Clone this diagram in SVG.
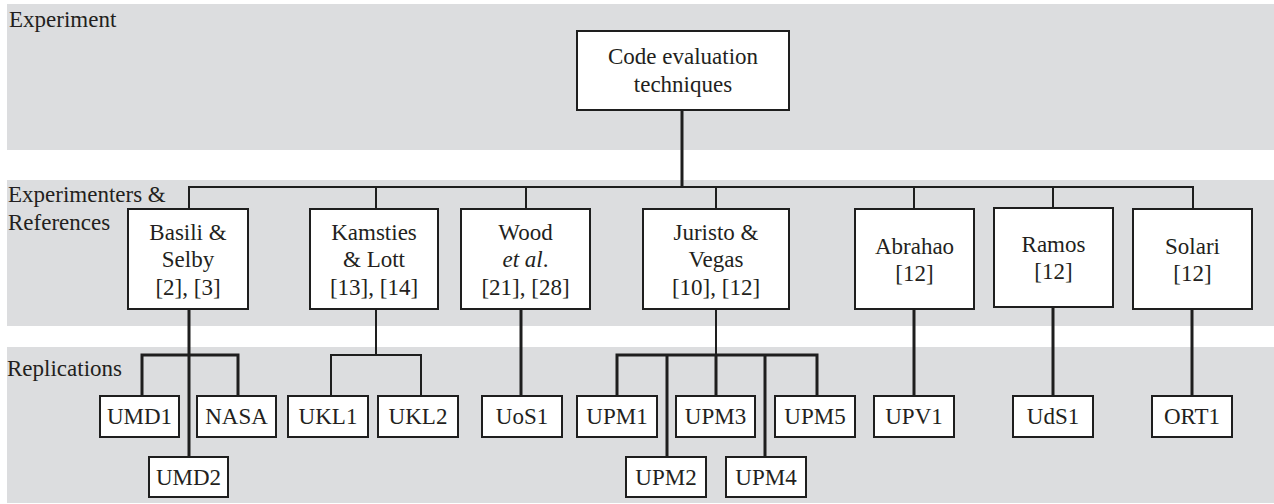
<svg xmlns="http://www.w3.org/2000/svg" width="1274" height="504" viewBox="0 0 1274 504">
<style>
.band{fill:#dcdddf}
.box{fill:#fff;stroke:#1e1e1e;stroke-width:2}
.t{font-family:"Liberation Serif","Times New Roman",serif;font-size:23px;fill:#231f20}
.c{text-anchor:middle}
.ln{stroke:#1e1e1e;stroke-width:3;fill:none}
.thin{stroke:#1e1e1e;stroke-width:2;fill:none}
</style>
<rect width="1274" height="504" fill="#fff"/>
<g id="bands">
<rect class="band" x="7" y="4" width="1267" height="146"/>
<rect class="band" x="7" y="180" width="1267" height="146"/>
<rect class="band" x="7" y="347" width="1267" height="156"/>
<text class="t" x="9" y="27">Experiment</text>
<text class="t" x="8" y="202">Experimenters &amp;</text>
<text class="t" x="8" y="230">References</text>
<text class="t" x="7" y="376">Replications</text>
</g>
<g id="connectors">
<line class="ln" x1="682" y1="110" x2="682" y2="188"/>
<line class="thin" x1="188" y1="187" x2="1194" y2="187"/>
<path class="thin" d="M189 187V209M376 187V209M526 187V209M716 187V209M914 187V209M1053 187V208M1193 187V209"/>
<path class="ln" d="M189 309V457M142 396V355H238V396"/>
<path class="thin" d="M376 309V355M331 396V355H421V396"/>
<path class="ln" d="M521 309V396"/>
<path class="thin" d="M716 309V355"/>
<path class="ln" d="M617 396V355H817V396M716 355V396M667 355V457M765 355V457"/>
<path class="ln" d="M914 309V396M1053 307V396M1192 309V396"/>
</g>
<g id="n-root"><rect class="box" x="577" y="31" width="212" height="79"/><text class="t c" x="683" y="64">Code evaluation</text><text class="t c" x="683" y="92">techniques</text></g>
<g id="n-basili"><rect class="box" x="128" y="209" width="120" height="100"/><text class="t c" x="188" y="240">Basili &amp;</text><text class="t c" x="188" y="267">Selby</text><text class="t c" x="188" y="295">[2], [3]</text></g>
<g id="n-kamsties"><rect class="box" x="310" y="209" width="128" height="100"/><text class="t c" x="374" y="240">Kamsties</text><text class="t c" x="374" y="267">&amp; Lott</text><text class="t c" x="374" y="295">[13], [14]</text></g>
<g id="n-wood"><rect class="box" x="461" y="209" width="129" height="100"/><text class="t c" x="525.5" y="240">Wood</text><text class="t c" x="525.5" y="267"><tspan font-style="italic">et al</tspan>.</text><text class="t c" x="525.5" y="295">[21], [28]</text></g>
<g id="n-juristo"><rect class="box" x="643" y="209" width="146" height="100"/><text class="t c" x="716" y="240">Juristo &amp;</text><text class="t c" x="716" y="267">Vegas</text><text class="t c" x="716" y="295">[10], [12]</text></g>
<g id="n-abrahao"><rect class="box" x="855" y="209" width="119" height="100"/><text class="t c" x="914.5" y="254">Abrahao</text><text class="t c" x="914.5" y="281">[12]</text></g>
<g id="n-ramos"><rect class="box" x="994" y="208" width="119" height="99"/><text class="t c" x="1053.5" y="252">Ramos</text><text class="t c" x="1053.5" y="279">[12]</text></g>
<g id="n-solari"><rect class="box" x="1133" y="209" width="119" height="100"/><text class="t c" x="1192.5" y="254">Solari</text><text class="t c" x="1192.5" y="281">[12]</text></g>
<g id="n-umd1"><rect class="box" x="100" y="396" width="79" height="41"/><text class="t c" x="139.5" y="424">UMD1</text></g>
<g id="n-nasa"><rect class="box" x="197" y="396" width="79" height="41"/><text class="t c" x="236.5" y="424">NASA</text></g>
<g id="n-umd2"><rect class="box" x="149" y="457" width="79" height="40"/><text class="t c" x="188.5" y="485">UMD2</text></g>
<g id="n-ukl1"><rect class="box" x="288" y="396" width="80" height="41"/><text class="t c" x="328" y="424">UKL1</text></g>
<g id="n-ukl2"><rect class="box" x="378" y="396" width="80" height="41"/><text class="t c" x="418" y="424">UKL2</text></g>
<g id="n-uos1"><rect class="box" x="482" y="396" width="80" height="41"/><text class="t c" x="522" y="424">UoS1</text></g>
<g id="n-upm1"><rect class="box" x="577" y="396" width="80" height="41"/><text class="t c" x="617" y="424">UPM1</text></g>
<g id="n-upm3"><rect class="box" x="676" y="396" width="79" height="41"/><text class="t c" x="715.5" y="424">UPM3</text></g>
<g id="n-upm5"><rect class="box" x="775" y="396" width="80" height="41"/><text class="t c" x="815" y="424">UPM5</text></g>
<g id="n-upm2"><rect class="box" x="626" y="457" width="80" height="40"/><text class="t c" x="666" y="485">UPM2</text></g>
<g id="n-upm4"><rect class="box" x="726" y="457" width="80" height="40"/><text class="t c" x="766" y="485">UPM4</text></g>
<g id="n-upv1"><rect class="box" x="874" y="396" width="80" height="41"/><text class="t c" x="914" y="424">UPV1</text></g>
<g id="n-uds1"><rect class="box" x="1013" y="396" width="80" height="41"/><text class="t c" x="1053" y="424">UdS1</text></g>
<g id="n-ort1"><rect class="box" x="1152" y="396" width="80" height="41"/><text class="t c" x="1192" y="424">ORT1</text></g>
</svg>
